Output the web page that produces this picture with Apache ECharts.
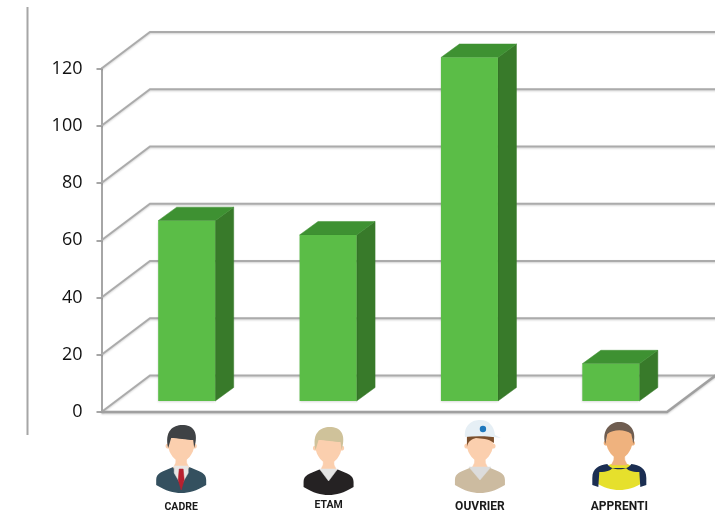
<!DOCTYPE html>
<html><head><meta charset="utf-8">
<style>html,body{margin:0;padding:0;background:#fff}#c{width:715px;height:514px}</style>
<script src="https://cdn.jsdelivr.net/npm/echarts@6/dist/echarts.min.js"></script>
</head><body><div id="c"></div>
<script>
const categories = ['CADRE', 'ETAM', 'OUVRIER', 'APPRENTI'];
const values = [63, 58, 120, 13];
const ticks = [0, 20, 40, 60, 80, 100, 120];
const iconShift = [9, 15, 25, 23];
const iconTop = [425, 427, 425, 422];
const labelY = [507, 505, 507, 507];
const labelSize = [10.5, 10.5, 12, 12];
const DX = 48.5, DY = 36.5, BARW = 57, BARSHIFT = 14.5, BARLIFT = 11, SDX = 18.5, SDY = 13.5;
const GRID = '#ababab';

function poly(pts, fill) {
  return {type: 'polygon', shape: {points: pts}, style: {fill: fill, stroke: fill, lineWidth: 0.5}};
}
const BODY = 'M-25 55 C-25 48,-20 47,-8 42 L8 42 C20 47,25 48,25 55 L25 60 C15 66,8 68,0 68 C-8 68,-15 66,-25 60 Z';
const FACE = 'M-13 10 C-13 2,13 2,13 10 L13 20 C13 29,5 37,0 37 C-5 37,-13 29,-13 20 Z';
function circ(x, y, r, fill) { return {type: 'circle', shape: {cx: x, cy: y, r: r}, style: {fill: fill}}; }
function person(i) {
  const skin = i === 3 ? '#efb27e' : '#fbcfae';
  const c = [];
  const body = ['#34505f', '#252223', '#ccbba0', '#e6e02c'][i];
  c.push({type: 'path', shape: {pathData: BODY}, style: {fill: body}});
  c.push(poly([[-5, 30], [5, 30], [5.5, 38], [8, 43], [-8, 43], [-5.5, 38]], skin));
  if (i === 0) {
    c.push(poly([[-7, 41], [7, 41], [7, 48], [0, 60], [-7, 48]], '#e8e6e4'));
    c.push(poly([[-2, 44], [2, 44], [3, 55], [0, 65], [-3, 55]], '#b8202f'));
  } else if (i === 1) {
    c.push(poly([[-9, 42], [9, 42], [0, 54]], '#e4e4e4'));
  } else if (i === 2) {
    c.push(poly([[-11, 42], [11, 42], [0, 55]], '#dcdcdc'));
  } else {
    c.push({type: 'path', shape: {pathData: 'M-12 42 C-20 43,-27 46,-27 56 L-27 63 L-21 65 L-20 50 C-12 50,-8 48,-7 46 L7 46 C8 48,12 50,20 50 L21 65 L27 63 L27 56 C27 46,20 43,12 42 C8 49,-8 49,-12 42 Z'}, style: {fill: '#1b2e52'}});
  }
  c.push(circ(-13, 21, 2.6, skin), circ(13, 21, 2.6, skin));
  c.push({type: 'path', shape: {pathData: FACE}, style: {fill: skin}});
  if (i < 2) {
    c.push({type: 'path', shape: {pathData: 'M-13 23 C-17 6,-8 0,1 0 C12 0,18 7,13 23 L12 15 C6 15,-4 13,-10 13 Z'}, style: {fill: i === 0 ? '#3f4245' : '#cfc29a'}});
  } else if (i === 2) {
    c.push({type: 'path', shape: {pathData: 'M-13 22 L-13 10 L14 8 L14 18 C8 13,2 14,-4 13 C-8 14,-12 16,-13 22 Z'}, style: {fill: '#7b4f2c'}});
    c.push({type: 'path', shape: {pathData: 'M-15 12 C-16 -1,-7 -5,0 -5 C9 -5,14 1,15 10 L21 13 C8 11,-4 11,-15 12 Z'}, style: {fill: '#e6eff5'}});
    c.push(circ(3, 4, 3.2, '#1f78bd'));
  } else {
    c.push({type: 'path', shape: {pathData: 'M-14 22 C-18 8,-9 0,0 0 C10 0,18 8,14 22 L12 12 C6 7,-6 7,-12 12 Z'}, style: {fill: '#6f5d50'}});
  }
  return c;
}

const chart = echarts.init(document.getElementById('c'), null, {renderer: 'canvas'});
chart.setOption({
  animation: false,
  backgroundColor: '#fff',
  grid: {left: 101.5, right: 48, top: 68.5, bottom: 102},
  xAxis: {type: 'category', data: categories, show: false},
  yAxis: {
    type: 'value', min: 0, max: 120, interval: 20,
    axisLine: {show: true, lineStyle: {color: '#a6a6a6', width: 2}},
    axisTick: {show: true, length: 5, lineStyle: {color: '#a6a6a6', width: 2}},
    splitLine: {show: false},
    axisLabel: {color: '#111', fontSize: 18, fontFamily: 'Open Sans', margin: 19}
  },
  graphic: [{type: 'line', shape: {x1: 27.5, y1: 7, x2: 27.5, y2: 435}, style: {stroke: '#a6a6a6', lineWidth: 2}}],
  series: [
    {
      type: 'custom', coordinateSystem: 'cartesian2d', silent: true, z: 1,
      data: ticks.map(t => [0, t]),
      renderItem(params, api) {
        const p = api.coord([0, api.value(1)]);
        const gs = params.coordSys;
        const x0 = gs.x, right = gs.x + gs.width, y = p[1];
        const points = [[x0, y], [x0 + DX, y - DY], [720, y - DY]];
        const ch = [{type: 'polyline', shape: {points}, style: {fill: 'none', stroke: GRID, lineWidth: 2, shadowColor: 'rgba(0,0,0,0.18)', shadowBlur: 2, shadowOffsetY: 1}}];
        if (api.value(1) === 0) {
          ch.push({type: 'polyline', shape: {points: [[x0, y], [right, y], [right + DX, y - DY]]}, style: {fill: 'none', stroke: '#a0a0a0', lineWidth: 2.5, shadowColor: 'rgba(0,0,0,0.2)', shadowBlur: 2, shadowOffsetY: 1}});
        }
        return {type: 'group', children: ch};
      }
    },
    {
      type: 'custom', coordinateSystem: 'cartesian2d', silent: true, z: 2,
      data: values.map((v, i) => [i, v]),
      renderItem(params, api) {
        const i = api.value(0), v = api.value(1);
        const top = api.coord([i, v]), base = api.coord([i, 0]);
        const l = top[0] + BARSHIFT - BARW / 2, r = l + BARW;
        const t = top[1] - BARLIFT, b = base[1] - BARLIFT;
        const cx = top[0] + iconShift[i];
        return {type: 'group', children: [
          poly([[r, t], [r + SDX, t - SDY], [r + SDX, b - SDY], [r, b]], '#387a2a'),
          poly([[l, t], [l + SDX, t - SDY], [r + SDX, t - SDY], [r, t]], '#3e9132'),
          {type: 'rect', shape: {x: l, y: t, width: BARW, height: b - t}, style: {fill: '#5bbd47', shadowColor: 'rgba(0,0,0,0.15)', shadowBlur: 2, shadowOffsetY: 1}},
          {type: 'group', x: cx, y: iconTop[i], children: person(i)},
          {type: 'text', style: {text: categories[i], x: cx, y: labelY[i], align: 'center', verticalAlign: 'middle', fill: '#1a1a1a', font: 'bold ' + labelSize[i] + 'px Roboto'}}
        ]};
      }
    }
  ]
});
</script></body></html>
